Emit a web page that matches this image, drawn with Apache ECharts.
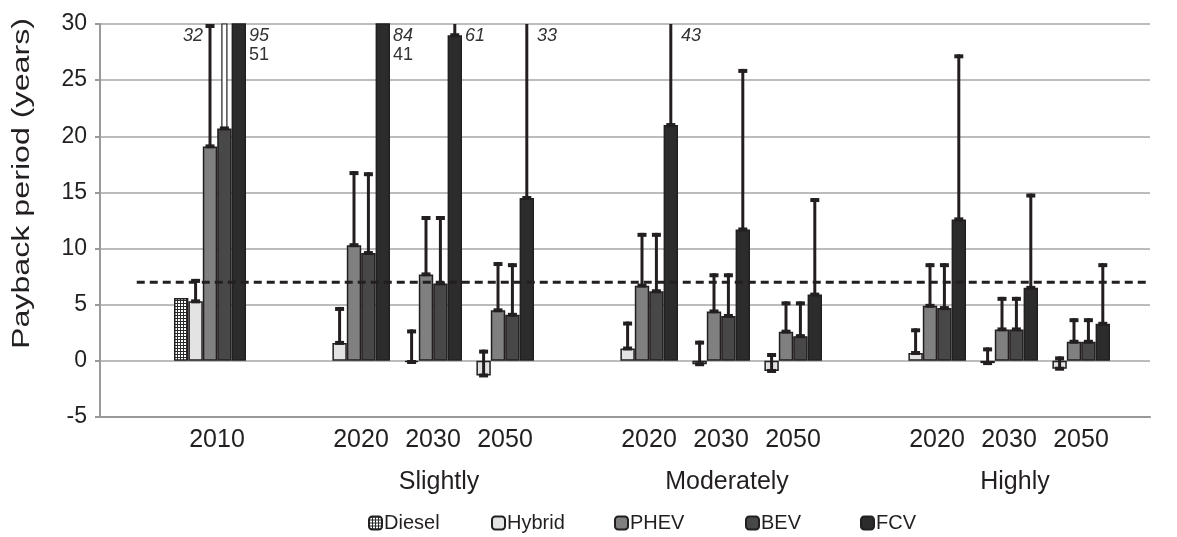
<!DOCTYPE html>
<html>
<head>
<meta charset="utf-8">
<script src="https://cdn.jsdelivr.net/npm/echarts@6/dist/echarts.min.js"></script>
<style>
  html, body { margin: 0; padding: 0; background: #ffffff; }
  #chart { width: 1177px; height: 537px; }
</style>
</head>
<body>
<div id="chart"></div>
<script>
// ---------------- data ----------------
const categories = ['2010', '', '2020', '2030', '2050', '', '2020', '2030', '2050', '', '2020', '2030', '2050'];
const groupLabels = ['', '', '', 'Slightly', '', '', '', 'Moderately', '', '', '', 'Highly', ''];
const yTicks = { min: -5, max: 30, interval: 5 };
const yTitle = 'Payback period (years)';
const threshold = 7;

const seriesNames = ['Diesel', 'Hybrid', 'PHEV', 'BEV', 'FCV'];
const diesel     = [5.6, '-', '-', '-', '-', '-', '-', '-', '-', '-', '-', '-', '-'];
const hybrid     = [5.3, '-', 1.6, -0.1, -1.3, '-', 1.1, -0.3, -0.9, '-', 0.7, -0.2, -0.7];
const hybridHigh = [7.3, '-', 4.8, 2.8, 1.0, '-', 3.5, 1.8, 0.7, '-', 2.9, 1.2, 0.4];
const phev       = [19.1, '-', 10.3, 7.7, 4.5, '-', 6.7, 4.4, 2.6, '-', 4.9, 2.8, 1.7];
const phevHigh   = [32, '-', 16.9, 12.9, 8.8, '-', 11.4, 7.8, 5.3, '-', 8.7, 5.7, 3.8];
const bev        = [20.7, '-', 9.6, 6.9, 4.1, '-', 6.2, 4.0, 2.2, '-', 4.7, 2.8, 1.7];
const bevHigh    = [35, '-', 16.8, 12.9, 8.7, '-', 11.4, 7.8, 5.3, '-', 8.7, 5.7, 3.8];
const fcv        = [51, '-', 41, 29.0, 14.5, '-', 21.0, 11.7, 5.9, '-', 12.6, 6.5, 3.3];
const fcvHigh    = [95, '-', 84, 61, 33, '-', 43, 26.0, 14.5, '-', 27.3, 14.9, 8.7];

// ---------------- styles ----------------
const INK = '#231f20';
const FONT = 'Liberation Sans, Arial, sans-serif';

function makeHatch() {
  const c = document.createElement('canvas');
  c.width = 3; c.height = 3;
  const g = c.getContext('2d');
  g.fillStyle = '#ffffff'; g.fillRect(0, 0, 3, 3);
  g.fillStyle = '#2a2a2a';
  g.fillRect(0, 0, 3, 1);
  g.fillRect(0, 0, 1, 3);
  return c;
}
const hatch = { image: makeHatch(), repeat: 'repeat' };

const barFills = [hatch, '#e3e3e3', '#808080', '#484848', '#2c2c2c'];
const barValues = [diesel, hybrid, phev, bev, fcv];
const highValues = [null, hybridHigh, phevHigh, bevHigh, fcvHigh];

const errData = [];
highValues.forEach((arr, si) => {
  if (!arr) return;
  arr.forEach((hi, ci) => {
    const lo = barValues[si][ci];
    if (hi === '-' || lo === '-') return;
    errData.push([ci, si, lo, hi]);
  });
});

function renderErr(params, api) {
  const ci = api.value(0), si = api.value(1), lo = api.value(2), hi = api.value(3);
  const band = api.size([1, 0])[0];
  const w = band / 5;
  const x = api.coord([ci, 0])[0] + (si - 2) * w;
  const top = api.coord([ci, yTicks.max])[1];
  const yLo = api.coord([ci, Math.min(lo, yTicks.max)])[1];
  const yHi = api.coord([ci, Math.min(hi, yTicks.max)])[1];
  const clipped = hi > yTicks.max;
  const children = [];
  const name = seriesNames[si];
  if (lo < yTicks.max) {
    if (clipped && name === 'BEV') {
      children.push({ type: 'rect', shape: { x: x - 2.5, y: yHi, width: 5, height: yLo - yHi },
        style: { fill: '#ffffff', stroke: INK, lineWidth: 1.2 } });
    } else {
      children.push({ type: 'line', shape: { x1: x, y1: yLo, x2: x, y2: yHi },
        style: { stroke: INK, lineWidth: 3 } });
    }
    children.push({ type: 'line', shape: { x1: x - 4.5, y1: yLo, x2: x + 4.5, y2: yLo },
      style: { stroke: INK, lineWidth: 4 } });
    if (!clipped || name === 'PHEV') {
      children.push({ type: 'line', shape: { x1: x - 4.5, y1: yHi + 2, x2: x + 4.5, y2: yHi + 2 },
        style: { stroke: INK, lineWidth: 4 } });
    }
  }
  if (clipped && (name === 'PHEV' || name === 'FCV')) {
    const right = name === 'FCV';
    const tx = right ? x + w / 2 + 3 : x - 7;
    children.push({ type: 'text', x: tx, y: top + 12,
      style: { text: String(hi), fill: '#333', font: 'italic 18px ' + FONT,
        align: right ? 'left' : 'right', verticalAlign: 'middle' } });
    if (lo > yTicks.max) {
      children.push({ type: 'text', x: tx, y: top + 31,
        style: { text: String(lo), fill: '#333', font: '18px ' + FONT,
          align: right ? 'left' : 'right', verticalAlign: 'middle' } });
    }
  }
  return { type: 'group', children };
}

const barSeries = seriesNames.map((n, i) => ({
  name: n,
  type: 'bar',
  xAxisIndex: 1,
  yAxisIndex: 1,
  data: barValues[i],
  barGap: '0%',
  barCategoryGap: '0%',
  itemStyle: { color: barFills[i], borderColor: INK, borderWidth: 1.5 },
  z: 3
}));

const legendLefts = [368, 491, 614, 745, 860];

const option = {
  animation: false,
  backgroundColor: '#ffffff',
  textStyle: { fontFamily: FONT },
  grid: [
    { left: 100, right: 27, top: 24, bottom: 120, outerBoundsMode: 'none', containLabel: false },
    { left: 174, right: 67, top: 24, bottom: 120, outerBoundsMode: 'none', containLabel: false }
  ],
  graphic: [
    { type: 'text', left: 11, top: 18, rotation: Math.PI / 2, scaleX: 1.4, silent: true,
      style: { text: yTitle, font: '23px ' + FONT, fill: INK } }
  ],
  legend: seriesNames.map((n, i) => ({
    data: [n],
    left: legendLefts[i],
    top: 513,
    itemWidth: 13,
    itemHeight: 13,
    padding: 0,
    selectedMode: false,
    textStyle: { fontSize: 20, color: INK, fontFamily: FONT, padding: [0, 0, 0, -3] }
  })),
  xAxis: [
    { type: 'value', gridIndex: 0, min: 0, max: 1, show: true, position: 'bottom',
      axisLine: { show: true, onZero: false, lineStyle: { color: '#999999', width: 2 } },
      axisTick: { show: false }, axisLabel: { show: false }, splitLine: { show: false } },
    { type: 'category', gridIndex: 1, data: categories, position: 'bottom',
      axisLine: { show: false, onZero: false }, axisTick: { show: false }, splitLine: { show: false },
      axisLabel: { interval: 0, fontSize: 25, color: INK, margin: 11, padding: [0, 0, 0, 14] } },
    { type: 'category', gridIndex: 1, data: groupLabels, position: 'bottom',
      axisLine: { show: false, onZero: false }, axisTick: { show: false }, splitLine: { show: false },
      axisLabel: { interval: 0, fontSize: 25, color: INK, margin: 53, padding: [0, 0, 0, 26] } }
  ],
  yAxis: [
    { type: 'value', gridIndex: 0, min: yTicks.min, max: yTicks.max, interval: yTicks.interval,
      axisLine: { show: true, lineStyle: { color: '#999999', width: 2 } },
      axisTick: { show: true, length: 5, lineStyle: { color: '#999999', width: 2 } },
      axisLabel: { fontSize: 23, color: INK, margin: 13 },
      splitLine: { show: true, lineStyle: { color: '#a6a6a6', width: 1.5 } } },
    { type: 'value', gridIndex: 1, min: yTicks.min, max: yTicks.max, interval: yTicks.interval,
      show: false, splitLine: { show: false } }
  ],
  series: [
    ...barSeries,
    { name: 'err', type: 'custom', xAxisIndex: 1, yAxisIndex: 1, data: errData,
      renderItem: renderErr, z: 5, silent: true },
    { name: 'threshold', type: 'line', xAxisIndex: 0, yAxisIndex: 0,
      data: [[0.035, threshold], [0.998, threshold]], symbol: 'none', silent: true,
      lineStyle: { color: INK, width: 3, type: [8, 5] }, z: 6 }
  ]
};

const chart = echarts.init(document.getElementById('chart'), null, { renderer: 'canvas' });
chart.setOption(option);
</script>
</body>
</html>
